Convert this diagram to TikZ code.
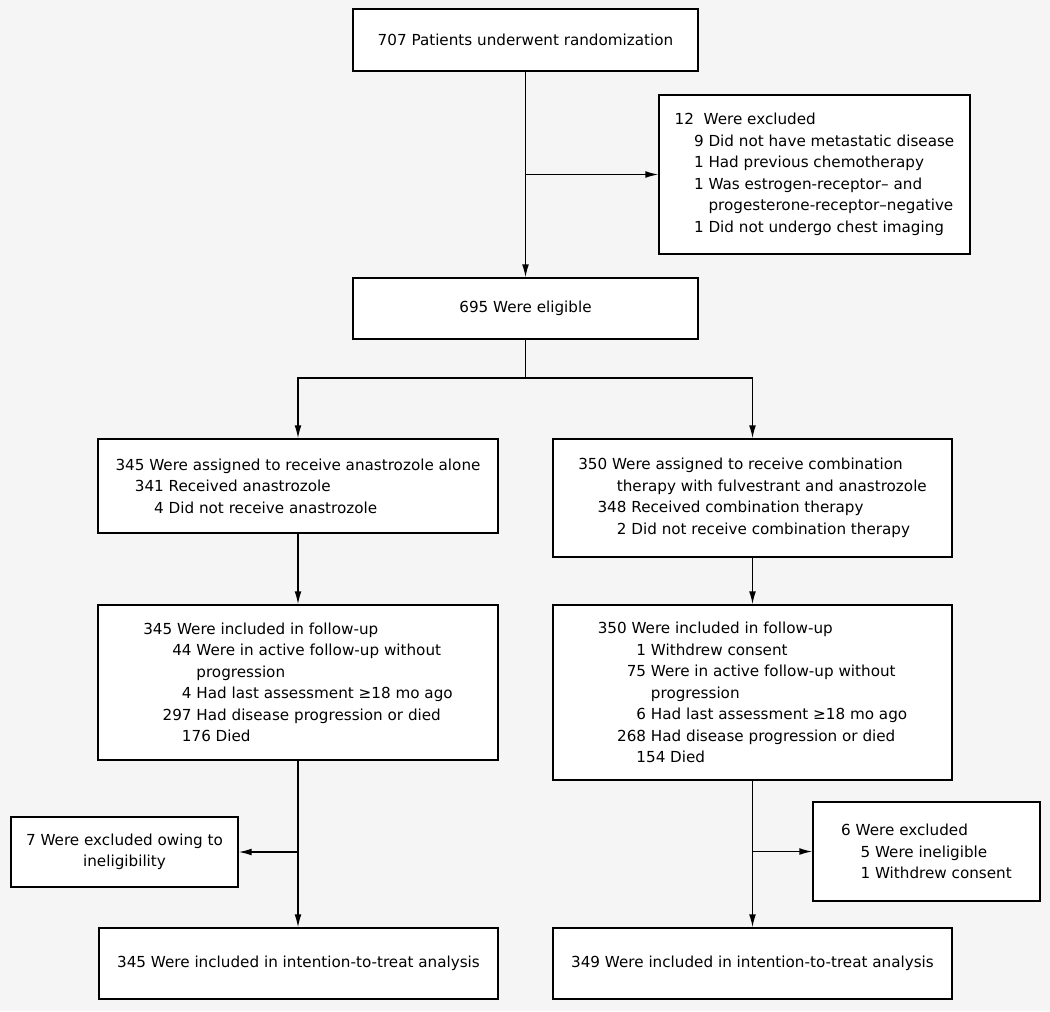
\documentclass[tikz,border=0pt]{standalone}
\usepackage{fontspec}
\setmainfont{DejaVu Sans}
\usepackage{tikz}
\usetikzlibrary{arrows.meta}
\definecolor{pagegray}{RGB}{245,245,245}

\begin{document}
\begin{tikzpicture}[x=0.025cm, y=-0.025cm, >={Latex[length=3.2mm,width=1.7mm]},
    flowbox/.style={rectangle, draw, fill=white, line width=1.1pt, inner sep=0pt,
      font=\fontsize{10.8}{15.3}\selectfont},
    flowline/.style={line width=0.9pt}]
    % Patient flow through the trial
    \fill [pagegray] (0,0) rectangle (1050,1011);
    \useasboundingbox (0,0) rectangle (1050,1011);

    \node (rand) at (525.5,40) [flowbox, minimum width=8.625cm, minimum height=1.55cm] {707 Patients underwent randomization};
    \node (excl) at (814.5,174.5) [flowbox, minimum width=7.775cm, minimum height=3.975cm, align=left] {12\ \ Were excluded\\
      \phantom{00}9 Did not have metastatic disease\\
      \phantom{00}1 Had previous chemotherapy\\
      \phantom{00}1 Was estrogen-receptor– and\\
      \phantom{001}\ progesterone-receptor–negative\\
      \phantom{00}1 Did not undergo chest imaging};
    \node (elig) at (525.5,308.5) [flowbox, minimum width=8.625cm, minimum height=1.525cm] {695 Were eligible};

    \node (anas) at (298,486) [flowbox, minimum width=10cm, minimum height=2.35cm, align=left] {345 Were assigned to receive anastrozole alone\\
      \phantom{00}341 Received anastrozole\\
      \phantom{0034}4 Did not receive anastrozole};
    \node (comb) at (752.5,498) [flowbox, minimum width=9.975cm, minimum height=2.95cm, align=left] {350 Were assigned to receive combination\\
      \phantom{0000}therapy with fulvestrant and anastrozole\\
      \phantom{00}348 Received combination therapy\\
      \phantom{0034}2 Did not receive combination therapy};

    \node (fua) at (298,682.5) [flowbox, minimum width=10cm, minimum height=3.875cm, align=left] {345 Were included in follow-up\\
      \phantom{002}44 Were in active follow-up without\\
      \phantom{00297}\ progression\\
      \phantom{0029}4 Had last assessment ≥18 mo ago\\
      \phantom{00}297 Had disease progression or died\\
      \phantom{0000}176 Died};
    \node (fuc) at (752.5,692.5) [flowbox, minimum width=9.975cm, minimum height=4.375cm, align=left] {350 Were included in follow-up\\
      \phantom{0002}1 Withdrew consent\\
      \phantom{002}75 Were in active follow-up without\\
      \phantom{00268}\ progression\\
      \phantom{0026}6 Had last assessment ≥18 mo ago\\
      \phantom{00}268 Had disease progression or died\\
      \phantom{0000}154 Died};

    \node (exa) at (124.5,852) [flowbox, minimum width=5.675cm, minimum height=1.75cm, align=center] {7 Were excluded owing to\\ineligibility};
    \node (exc) at (926.5,851.5) [flowbox, minimum width=5.675cm, minimum height=2.475cm, align=left] {6 Were excluded\\
      \phantom{00}5 Were ineligible\\
      \phantom{00}1 Withdrew consent};

    \node (itta) at (298.5,963.5) [flowbox, minimum width=9.975cm, minimum height=1.775cm] {345 Were included in intention-to-treat analysis};
    \node (ittc) at (752.5,963.5) [flowbox, minimum width=9.975cm, minimum height=1.775cm] {349 Were included in intention-to-treat analysis};

    \coordinate (split) at (525.5,378);

    \draw [flowline, ->] (rand) -- (elig);
    \draw [flowline, ->] (rand.south |- excl.west) -- (excl);
    \draw [flowline] (elig) -- (split);
    \draw [flowline, ->] (split) -| (anas);
    \draw [flowline, ->] (split) -| (comb);
    \draw [flowline, ->] (anas) -- (fua);
    \draw [flowline, ->] (comb) -- (fuc);
    \draw [flowline, ->] (fua) -- (itta.north -| fua.south);
    \draw [flowline, ->] (fua.south |- exa.east) -- (exa);
    \draw [flowline, ->] (fuc) -- (ittc);
    \draw [flowline, ->] (fuc.south |- exc.west) -- (exc);
\end{tikzpicture}
\end{document}
